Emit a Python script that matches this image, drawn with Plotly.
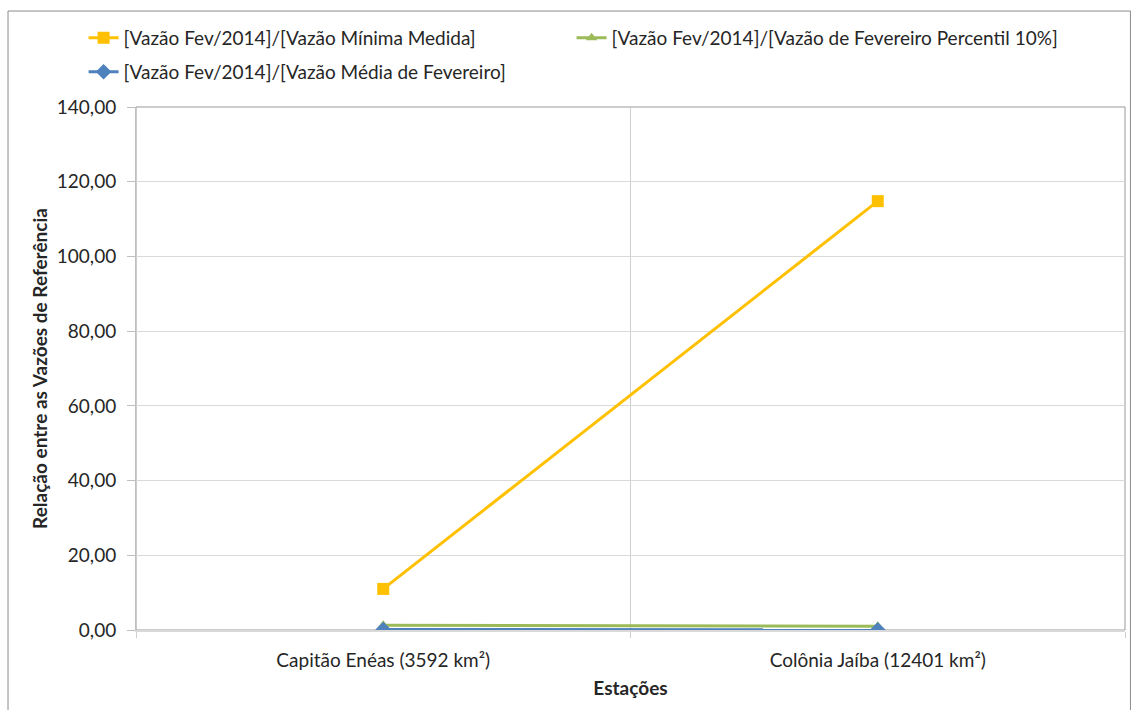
import plotly.graph_objects as go

# Stations (categories) and the ratio of Feb/2014 discharge to each reference discharge
estacoes = ["Capitão Enéas (3592 km²)", "Colônia Jaíba (12401 km²)"]
razao_minima = [11.0, 114.8]
razao_p10 = [1.3, 1.0]
razao_media = [0.12, 0.06]

nomes = [
    "[Vazão Fev/2014]/[Vazão Mínima Medida]",
    "[Vazão Fev/2014]/[Vazão de Fevereiro Percentil 10%]",
    "[Vazão Fev/2014]/[Vazão Média de Fevereiro]",
]

y_ticks = [0, 20, 40, 60, 80, 100, 120, 140]

FONT = "Lato"
TXT = "#262626"
FS = 19

fig = go.Figure()
fig.add_trace(go.Scatter(
    x=estacoes, y=razao_minima, name=nomes[0], mode="lines+markers",
    line=dict(color="#FFC000", width=3),
    marker=dict(symbol="square", size=12, color="#FFC000"),
    legend="legend",
))
fig.add_trace(go.Scatter(
    x=estacoes, y=razao_p10, name=nomes[1], mode="lines+markers",
    line=dict(color="#9BBB59", width=3),
    marker=dict(symbol="triangle-up", size=10, color="#9BBB59"),
    legend="legend",
))
fig.add_trace(go.Scatter(
    x=estacoes, y=razao_media, name=nomes[2], mode="lines+markers",
    line=dict(color="#4F81BD", width=3),
    marker=dict(symbol="diamond", size=12, color="#4F81BD"),
    legend="legend2",
))

# outer chart border
fig.add_shape(type="rect", xref="paper", yref="paper",
              x0=-0.1294, x1=1.0055, y0=-0.17, y1=1.1835,
              line=dict(color="#8c8c8c", width=1), layer="below")
# plot-area border
fig.add_shape(type="rect", xref="paper", yref="paper",
              x0=0, x1=1, y0=0, y1=1,
              line=dict(color="#999999", width=1), layer="below")

fig.update_layout(
    width=1131, height=710,
    margin=dict(l=136, r=6, t=107, b=80, autoexpand=False),
    paper_bgcolor="white", plot_bgcolor="white",
    separators=",.",
    font=dict(family=FONT, size=FS, color=TXT),
    legend=dict(
        orientation="h", x=-0.053, xanchor="left", y=1.132, yanchor="middle",
        entrywidth=443, entrywidthmode="pixels",
        font=dict(family=FONT, size=FS, color=TXT),
        bgcolor="rgba(0,0,0,0)", itemclick=False,
    ),
    legend2=dict(
        orientation="h", x=-0.053, xanchor="left", y=1.067, yanchor="middle",
        font=dict(family=FONT, size=FS, color=TXT),
        bgcolor="rgba(0,0,0,0)",
    ),
    xaxis=dict(
        type="category", range=[-0.5, 1.5],
        tickson="boundaries", ticks="outside", ticklen=6, tickcolor="#d0d0d0",
        ticklabelstandoff=12,
        showgrid=True, gridcolor="#cfcfcf", gridwidth=1,
        showline=True, linecolor="#d9d9d9", linewidth=2,
        tickfont=dict(family=FONT, size=FS, color=TXT),
        title=dict(text="<b>Estações</b>", font=dict(family=FONT, size=FS, color=TXT), standoff=12),
        zeroline=False,
    ),
    yaxis=dict(
        range=[0, 140], tickvals=y_ticks, tickformat=".2f",
        ticks="outside", ticklen=8, tickcolor="#bfbfbf",
        ticklabelstandoff=7,
        showgrid=True, gridcolor="#d9d9d9", gridwidth=1,
        showline=True, linecolor="#bfbfbf", linewidth=1,
        tickfont=dict(family=FONT, size=FS, color=TXT),
        title=dict(text="<b>Relação entre as Vazões de Referência</b>",
                   font=dict(family=FONT, size=FS, color=TXT), standoff=4),
        zeroline=False,
    ),
)

fig.write_html("out.html")
